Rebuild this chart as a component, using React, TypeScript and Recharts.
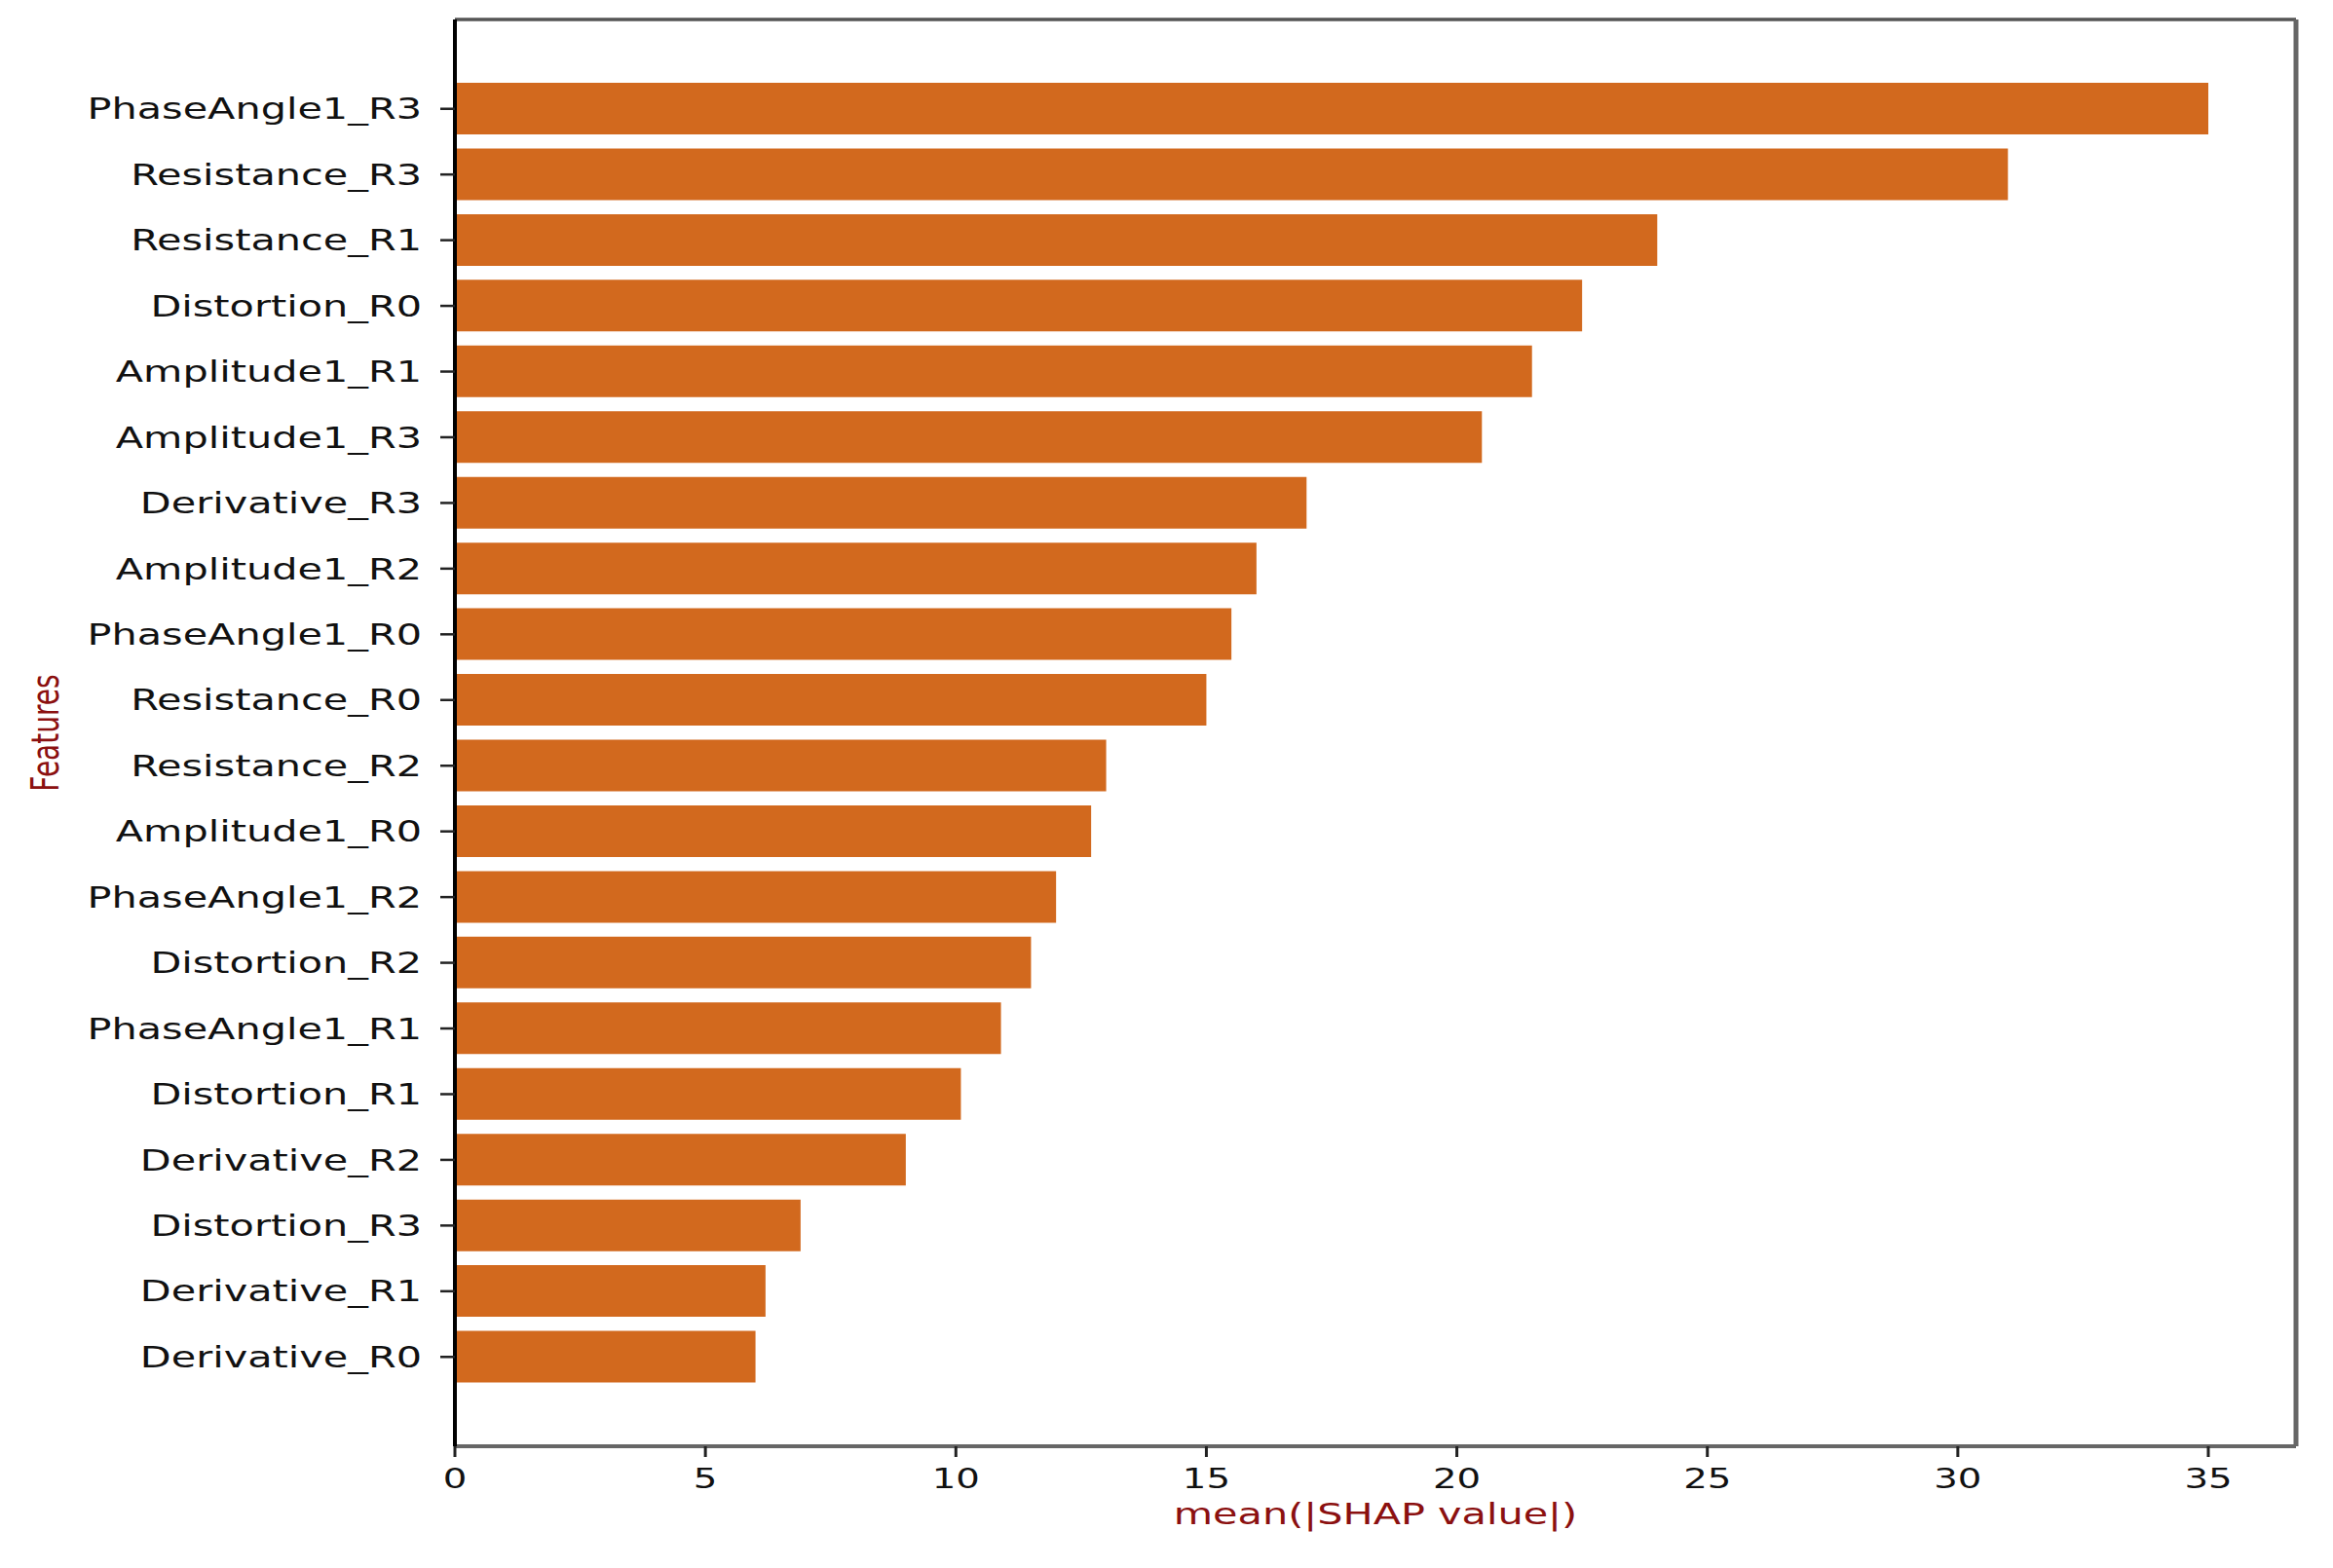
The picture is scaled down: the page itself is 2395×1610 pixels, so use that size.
import { Bar, BarChart, XAxis, YAxis } from "recharts";

const features = [
  "PhaseAngle1_R3",
  "Resistance_R3",
  "Resistance_R1",
  "Distortion_R0",
  "Amplitude1_R1",
  "Amplitude1_R3",
  "Derivative_R3",
  "Amplitude1_R2",
  "PhaseAngle1_R0",
  "Resistance_R0",
  "Resistance_R2",
  "Amplitude1_R0",
  "PhaseAngle1_R2",
  "Distortion_R2",
  "PhaseAngle1_R1",
  "Distortion_R1",
  "Derivative_R2",
  "Distortion_R3",
  "Derivative_R1",
  "Derivative_R0",
];

const shapValues = [
  35.0, 31.0, 24.0, 22.5, 21.5, 20.5, 17.0, 16.0, 15.5, 15.0, 13.0, 12.7, 12.0,
  11.5, 10.9, 10.1, 9.0, 6.9, 6.2, 6.0,
];

const xTicks = [0, 5, 10, 15, 20, 25, 30, 35];

const FONT = "DejaVu Sans";
// the source picture is stretched sideways, text included
const STRETCH = 1.38;

function YTick({ x, y, payload }: any) {
  return (
    <g transform={`translate(${x},${y}) scale(${STRETCH},1)`}>
      <text textAnchor="end" dy="0.355em" fontFamily={FONT} fontSize={30} fill="#111">
        {payload.value}
      </text>
    </g>
  );
}

function XTick({ x, y, payload }: any) {
  return (
    <g transform={`translate(${x},${y}) scale(${STRETCH},1)`}>
      <text textAnchor="middle" dy="0.78em" fontFamily={FONT} fontSize={28} fill="#111">
        {payload.value}
      </text>
    </g>
  );
}

function XLabel({ viewBox }: any) {
  const cx = viewBox.x + viewBox.width / 2;
  return (
    <g transform={`translate(${cx},${viewBox.y + 80}) scale(${STRETCH},1)`}>
      <text textAnchor="middle" fontFamily={FONT} fontSize={30} fill="#8b1010">
        mean(|SHAP value|)
      </text>
    </g>
  );
}

function YLabel({ viewBox }: any) {
  const cy = viewBox.y + viewBox.height / 2;
  return (
    <g transform={`translate(${viewBox.x + 60},${cy}) scale(${STRETCH},1) rotate(-90)`}>
      <text textAnchor="middle" fontFamily={FONT} fontSize={28} fill="#8b1010">
        Features
      </text>
    </g>
  );
}

export default function App() {
  const data = features.map((feature, i) => ({ feature, value: shapValues[i] }));

  return (
    <div style={{ position: "absolute", left: 0, top: 0, background: "#fff" }}>
      <BarChart
        width={2395}
        height={1610}
        data={data}
        layout="vertical"
        margin={{ top: 19, right: 37, bottom: 0, left: 0 }}
      >
        <XAxis
          type="number"
          dataKey="value"
          domain={[0, 36.75]}
          ticks={xTicks}
          height={125}
          tick={<XTick />}
          tickSize={11}
          tickMargin={10}
          axisLine={{ stroke: "#666", strokeWidth: 4 }}
          tickLine={{ stroke: "#222", strokeWidth: 3 }}
          label={<XLabel />}
        />
        <XAxis
          xAxisId="top"
          orientation="top"
          type="number"
          domain={[0, 36.75]}
          height={1}
          tick={false}
          tickLine={false}
          axisLine={{ stroke: "#555", strokeWidth: 3.5 }}
        />
        <YAxis
          type="category"
          dataKey="feature"
          width={467}
          interval={0}
          padding={{ top: 58, bottom: 58 }}
          tick={<YTick />}
          tickSize={15}
          tickMargin={19}
          axisLine={{ stroke: "#000", strokeWidth: 4 }}
          tickLine={{ stroke: "#222", strokeWidth: 2.5 }}
          label={<YLabel />}
        />
        <YAxis
          yAxisId="right"
          orientation="right"
          type="category"
          dataKey="feature"
          width={1}
          tick={false}
          tickLine={false}
          axisLine={{ stroke: "#666", strokeWidth: 5 }}
        />
        <Bar dataKey="value" fill="#d2691e" barSize={53} isAnimationActive={false} />
      </BarChart>
    </div>
  );
}
